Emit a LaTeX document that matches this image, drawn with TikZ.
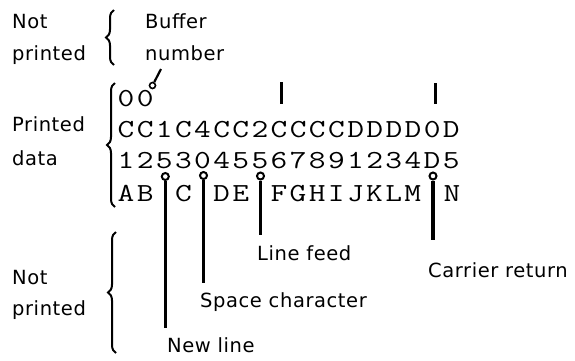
\documentclass[tikz,border=0pt]{standalone}
\usepackage{fontspec}
\usetikzlibrary{decorations.pathreplacing}
\newfontfamily\labelfont[LetterSpace=3]{DejaVu Sans}
\newfontfamily\datafont[FakeStretch=1.25,LetterSpace=9.2]{Latin Modern Mono}
\begin{document}
\begin{tikzpicture}[x=1pt,y=-1pt,
  lbl/.style={font=\labelfont\fontsize{19.5}{24}\selectfont, anchor=base west, inner sep=0pt},
  data/.style={font=\datafont\fontsize{26}{30}\selectfont, anchor=base west, inner sep=0pt},
  br/.style={decorate, decoration={brace, amplitude=8pt}, line width=2pt},
  lead/.style={line width=3.4pt},
  dot/.style={circle, draw, fill=white, line width=2pt, inner sep=0pt, minimum size=7pt}]
\useasboundingbox (0,0) rectangle (575,360);
% left labels
\node[lbl] (np1a) at (12,28) {Not};
\node[lbl] (np1b) at (12,60) {printed};
\node[lbl] (pda) at (12,131) {Printed};
\node[lbl] (pdb) at (12,165) {data};
\node[lbl] (np2a) at (12,284) {Not};
\node[lbl] (np2b) at (12,315) {printed};
% braces
\draw[br] (114,65) -- (114,10);
\draw[br] (115,207) -- (115,83);
\draw[br] (116,353) -- (116,232);
% buffer number
\node[lbl] (buf) at (145,28) {Buffer};
\node[lbl] (num) at (145,60) {number};
% data rows
\node[data] (r1) at (117.5,106) {00};
\node[data] (r2) at (117.5,137) {CC1C4CC2CCCCDDDD0D};
\node[data] (r3) at (117.5,168) {1253045567891234D5};
\node[data] (r4a) at (117.5,201) {AB};
\node[data] (r4b) at (174.8,201) {C};
\node[data] (r4c) at (213.0,201) {DE};
\node[data] (r4d) at (270.3,201) {FGHIJKLM};
\node[data] (r4e) at (443.5,201) {N};
% buffer marker
\node[dot, minimum size=6pt, line width=1.6pt] (m0) at (152.5,85.5) {};
\coordinate (e0) at (161,69);
\draw[line width=2.2pt] (m0) -- (e0);
% ticks
\coordinate (t1a) at (281,82);
\coordinate (t1b) at (281,104);
\coordinate (t2a) at (435,83);
\coordinate (t2b) at (435,104);
\draw[line width=3pt] (t1a) -- (t1b);
\draw[line width=3pt] (t2a) -- (t2b);
% markers and leaders
\node[dot] (m1) at (165.3,176.5) {};
\node[dot] (m2) at (203.5,175.5) {};
\node[dot] (m3) at (260.5,176) {};
\node[dot] (m4) at (433,176) {};
\coordinate (e1) at (165.3,328);
\coordinate (e2) at (203.5,283);
\coordinate (e3) at (260.5,235);
\coordinate (e4) at (433,240);
\draw[lead] (m1.south) -- (e1);
\draw[lead] (m2.south) -- (e2);
\draw[lead] (m3.south) -- (e3);
\draw[lead] (m4.south) -- (e4);
% leader labels
\node[lbl] (lf) at (257,260) {Line feed};
\node[lbl] (cr) at (428,277) {Carrier return};
\node[lbl] (sc) at (200,307) {Space character};
\node[lbl] (nl) at (167,352) {New line};
\end{tikzpicture}
\end{document}
